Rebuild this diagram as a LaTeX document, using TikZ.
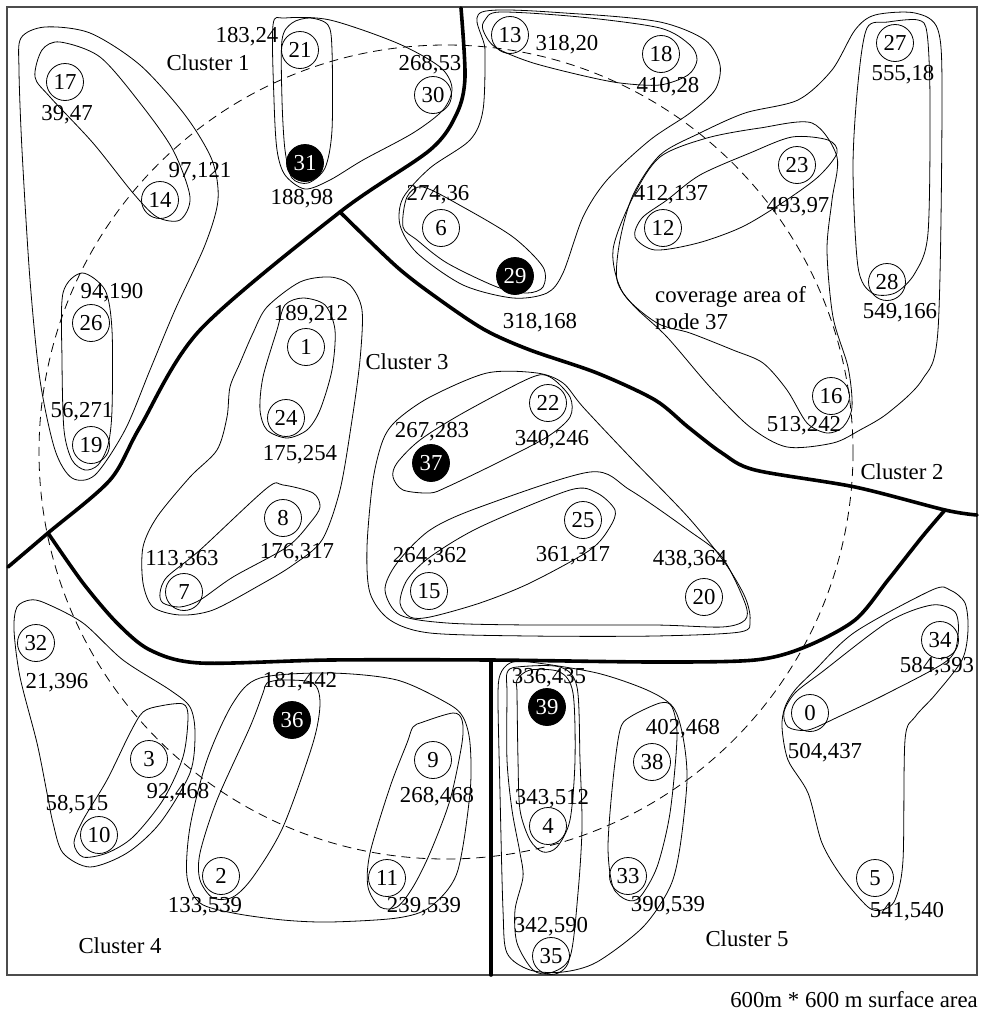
\documentclass[tikz,border=0pt]{standalone}
\usepackage{fontspec}
\setmainfont{Liberation Serif}

\begin{document}
\begin{tikzpicture}[x=1pt, y=-1pt,
    font=\fontsize{22.8}{27}\selectfont,
    station/.style={circle, draw, line width=0.8pt, minimum size=37pt, inner sep=0pt},
    clhead/.style={station, fill=black, text=white},
    xylabel/.style={inner sep=0pt},
    blob/.style={line width=0.8pt},
    cluborder/.style={line width=3.6pt, line join=round, line cap=round},
    coverage/.style={line width=0.8pt, dash pattern=on 9pt off 6pt}]

  \useasboundingbox (0,0) rectangle (985,1012);

  % surface frame
  \draw[line width=1.2pt, black!70] (7,7) rectangle (977,975);

  % coverage area of node 37
  \draw[coverage] (446,452) circle [radius=407];

  % cluster borders
  \draw[cluborder] plot[smooth] coordinates {(461,8) (465,77) (457,113) (430,150) (340,212) (200,330) (140,427) (110,480) (48,533) (8,567)};
  \draw[cluborder] plot[smooth] coordinates {(340,212) (397,267) (440,300) (485,330) (530,350) (597,373) (655,400) (688,427) (722,453) (755,470) (855,487) (945,510) (977,515)};
  \draw[cluborder] plot[smooth] coordinates {(48,533) (83,583) (117,623) (150,650) (200,663) (330,660) (490,660) (655,662) (755,660) (805,647) (855,620) (888,580) (922,537) (945,510)};
  \draw[cluborder] (491,660) -- (491,975);

  % cluster 1 groups
  \draw[blob] plot[smooth cycle] coordinates {(21,38) (45,27) (90,33) (140,65) (185,115) (212,160) (218,200) (205,245) (175,310) (150,370) (125,430) (95,475) (72,478) (55,450) (40,380) (30,280) (22,150) (19,70)};
  \draw[blob] plot[smooth cycle] coordinates {(35,77) (42,50) (60,42) (100,57) (140,103) (173,150) (190,197) (180,220) (157,217) (133,193) (93,143) (50,97)};
  \draw[blob] plot[smooth cycle] coordinates {(63,293) (82,273) (105,290) (112,330) (112,410) (108,445) (98,465) (85,470) (72,460) (64,430) (62,360)};
  \draw[blob] plot[smooth cycle] coordinates {(273,25) (285,18) (330,20) (397,43) (440,67) (452,88) (443,110) (413,133) (363,160) (330,180) (305,189) (285,175) (277,150) (274,100)};
  \draw[blob] plot[smooth cycle] coordinates {(282,40) (292,23) (310,18) (328,25) (332,50) (332,130) (325,168) (308,183) (292,178) (285,150) (282,100)};

  % groups around 13, 18, 6, 29
  \draw[blob] plot[smooth cycle] coordinates {(485,20) (500,12) (580,17) (660,28) (690,45) (697,60) (688,75) (660,85) (620,83) (580,75) (530,62) (495,47) (483,30)};
  \draw[blob] plot[smooth cycle] coordinates {(482,12) (580,14) (660,22) (705,40) (720,65) (715,90) (690,113) (650,140) (607,180) (583,217) (563,273) (547,293) (513,298) (463,285) (417,253) (400,225) (403,198) (430,168) (470,140) (483,110) (485,50)};
  \draw[blob] plot[smooth cycle] coordinates {(403,227) (407,197) (423,187) (463,207) (513,237) (543,267) (543,287) (527,293) (497,287) (447,263) (417,240)};

  % cluster 2 groups
  \draw[blob] plot[smooth cycle] coordinates {(855,30) (832,70) (798,100) (745,113) (700,133) (660,155) (633,195) (620,240) (617,280) (633,305) (667,337) (710,387) (750,427) (787,447) (833,443) (860,430) (888,413) (922,380) (938,330) (942,100) (938,30) (915,13) (875,15)};
  \draw[blob] plot[smooth cycle] coordinates {(613,250) (623,293) (657,323) (690,333) (733,350) (763,363) (787,390) (807,423) (827,433) (843,427) (852,407) (848,367) (833,317) (827,250) (832,200) (837,157) (812,123) (760,128) (707,138) (660,157) (633,197)};
  \draw[blob] plot[smooth cycle] coordinates {(635,237) (642,218) (667,200) (700,175) (750,153) (792,137) (828,140) (837,153) (818,177) (782,203) (742,227) (698,243) (655,250)};
  \draw[blob] plot[smooth cycle] coordinates {(867,28) (888,22) (918,20) (927,33) (930,100) (928,233) (915,273) (895,293) (872,293) (858,267) (853,167) (858,83)};

  % cluster 3 groups
  \draw[blob] plot[smooth cycle] coordinates {(277,330) (285,305) (303,298) (325,305) (335,330) (332,370) (320,410) (307,430) (287,438) (267,430) (260,410) (263,377)};
  \draw[blob] plot[smooth cycle] coordinates {(253,333) (267,307) (300,282) (330,277) (350,285) (362,310) (360,360) (352,420) (340,490) (322,540) (293,565) (260,585) (213,610) (180,615) (153,607) (143,583) (143,547) (157,517) (190,477) (217,450) (227,417) (230,387) (240,363)};
  \draw[blob] plot[smooth cycle] coordinates {(160,593) (167,577) (200,550) (267,488) (283,485) (313,493) (320,507) (310,523) (287,547) (233,577) (200,600) (180,607) (163,603)};
  \draw[blob] plot[smooth cycle] coordinates {(393,477) (397,463) (420,440) (463,413) (530,378) (550,377) (570,397) (570,417) (547,437) (497,463) (447,487) (430,493) (403,490)};
  \draw[blob] plot[smooth cycle] coordinates {(400,603) (407,580) (430,557) (480,527) (570,490) (597,493) (615,510) (610,527) (590,550) (530,583) (480,603) (430,617) (410,617)};
  \draw[blob] plot[smooth cycle] coordinates {(385,590) (397,563) (430,530) (480,507) (590,472) (630,490) (688,530) (722,557) (745,603) (745,620) (722,627) (655,625) (530,625) (447,623) (400,615)};
  \draw[blob] plot[smooth cycle] coordinates {(383,440) (397,420) (430,397) (487,373) (537,373) (563,383) (583,407) (630,457) (688,517) (725,563) (745,597) (750,620) (740,632) (655,636) (530,636) (430,633) (390,620) (370,593) (367,547) (373,480)};

  % cluster 4 groups
  \draw[blob] plot[smooth cycle] coordinates {(17,607) (30,600) (45,603) (83,623) (123,660) (170,690) (190,707) (195,733) (190,773) (160,823) (127,853) (90,867) (63,853) (53,823) (47,793) (37,743) (20,677) (14,630)};
  \draw[blob] plot[smooth cycle] coordinates {(143,712) (160,706) (183,704) (188,717) (183,757) (163,800) (133,837) (107,853) (83,857) (74,843) (83,820) (107,780) (130,733)};
  \draw[blob] plot[smooth cycle] coordinates {(267,683) (283,680) (313,683) (320,703) (313,743) (283,827) (253,877) (233,897) (213,898) (200,880) (200,853) (217,800) (250,727) (263,693)};
  \draw[blob] plot[smooth cycle] coordinates {(260,678) (233,703) (207,760) (190,827) (187,877) (200,903) (233,913) (283,920) (330,922) (397,918) (430,907) (457,873) (470,793) (470,743) (463,717) (447,703) (397,680) (330,673)};
  \draw[blob] plot[smooth cycle] coordinates {(413,727) (423,722) (453,713) (462,720) (462,743) (450,800) (430,853) (413,887) (397,907) (380,907) (368,887) (370,853) (390,787) (407,743)};

  % cluster 5 groups
  \draw[blob] plot[smooth cycle] coordinates {(517,680) (530,670) (560,672) (573,693) (575,760) (570,820) (557,847) (543,852) (530,840) (520,810) (518,760) (517,693)};
  \draw[blob] plot[smooth cycle] coordinates {(507,673) (517,667) (560,667) (577,687) (580,760) (582,827) (578,893) (570,957) (550,973) (533,970) (517,943) (515,910) (523,877) (520,853) (512,810) (507,760) (507,693)};
  \draw[blob] plot[smooth cycle] coordinates {(500,675) (510,663) (530,662) (597,673) (647,690) (673,707) (683,737) (687,780) (680,847) (670,887) (643,927) (597,962) (563,972) (530,970) (507,953) (503,910) (500,793) (498,700)};
  \draw[blob] plot[smooth cycle] coordinates {(620,730) (630,717) (660,703) (672,707) (677,737) (670,813) (657,867) (640,897) (627,900) (613,887) (608,847) (613,780)};
  \draw[blob] plot[smooth cycle] coordinates {(795,693) (822,672) (888,622) (932,605) (955,612) (958,635) (948,660) (888,693) (838,717) (808,730) (788,727) (784,712)};
  \draw[blob] plot[smooth cycle] coordinates {(795,690) (815,670) (855,632) (932,590) (950,590) (965,603) (968,630) (962,660) (935,695) (915,717) (905,740) (903,860) (895,900) (882,910) (868,907) (842,877) (822,843) (808,793) (788,760) (782,727) (785,707)};

  % sensor nodes
  \node[station] (n0) at (810,713) {0};
  \node[station] (n1) at (306,347) {1};
  \node[station] (n2) at (221,876) {2};
  \node[station] (n3) at (149,759) {3};
  \node[station] (n4) at (548,826) {4};
  \node[station] (n5) at (875,878) {5};
  \node[station] (n6) at (441,228) {6};
  \node[station] (n7) at (184,592) {7};
  \node[station] (n8) at (283,518) {8};
  \node[station] (n9) at (433,760) {9};
  \node[station] (n10) at (99,835) {10};
  \node[station] (n11) at (387,878) {11};
  \node[station] (n12) at (663,228) {12};
  \node[station] (n13) at (510,35) {13};
  \node[station] (n14) at (160,200) {14};
  \node[station] (n15) at (429,591) {15};
  \node[station] (n16) at (831,396) {16};
  \node[station] (n17) at (65,82) {17};
  \node[station] (n18) at (661,54) {18};
  \node[station] (n19) at (91,445) {19};
  \node[station] (n20) at (704,597) {20};
  \node[station] (n21) at (300,50) {21};
  \node[station] (n22) at (548,403) {22};
  \node[station] (n23) at (797,165) {23};
  \node[station] (n24) at (286,418) {24};
  \node[station] (n25) at (583,520) {25};
  \node[station] (n26) at (91,323) {26};
  \node[station] (n27) at (895,43) {27};
  \node[station] (n28) at (887,282) {28};
  \node[station] (n30) at (433,95) {30};
  \node[station] (n32) at (36,643) {32};
  \node[station] (n33) at (628,876) {33};
  \node[station] (n34) at (940,640) {34};
  \node[station] (n35) at (551,956) {35};
  \node[station] (n38) at (652,762) {38};

  % cluster heads
  \node[clhead] (n29) at (515,276) {29};
  \node[clhead] (n31) at (305,163) {31};
  \node[clhead] (n36) at (292,720) {36};
  \node[clhead] (n37) at (431,463) {37};
  \node[clhead] (n39) at (547,707) {39};

  % positions
  \node[xylabel] (p17) at (67,115) {39,47};
  \node[xylabel] (p14) at (200,172) {97,121};
  \node[xylabel] (p21) at (247,37) {183,24};
  \node[xylabel] (p31) at (302,199) {188,98};
  \node[xylabel] (p26) at (112,293) {94,190};
  \node[xylabel] (p19) at (82,412) {56,271};
  \node[xylabel] (p30) at (430,65) {268,53};
  \node[xylabel] (p13) at (567,45) {318,20};
  \node[xylabel] (p18) at (668,87) {410,28};
  \node[xylabel] (p6) at (438,195) {274,36};
  \node[xylabel] (p29) at (540,323) {318,168};
  \node[xylabel] (p27) at (903,75) {555,18};
  \node[xylabel] (p12) at (671,195) {412,137};
  \node[xylabel] (p23) at (798,207) {493,97};
  \node[xylabel] (p28) at (900,313) {549,166};
  \node[xylabel] (p16) at (804,426) {513,242};
  \node[xylabel] (p1) at (311,315) {189,212};
  \node[xylabel] (p24) at (300,455) {175,254};
  \node[xylabel] (p8) at (297,553) {176,317};
  \node[xylabel] (p7) at (182,560) {113,363};
  \node[xylabel] (p37) at (432,432) {267,283};
  \node[xylabel] (p22) at (552,440) {340,246};
  \node[xylabel] (p15) at (430,557) {264,362};
  \node[xylabel] (p25) at (573,556) {361,317};
  \node[xylabel] (p20) at (690,560) {438,364};
  \node[xylabel] (p32) at (57,683) {21,396};
  \node[xylabel] (p3) at (178,793) {92,468};
  \node[xylabel] (p10) at (77,805) {58,515};
  \node[xylabel] (p36) at (300,682) {181,442};
  \node[xylabel] (p2) at (205,907) {133,539};
  \node[xylabel] (p9) at (437,797) {268,468};
  \node[xylabel] (p11) at (424,907) {239,539};
  \node[xylabel] (p39) at (549,678) {336,435};
  \node[xylabel] (p4) at (552,799) {343,512};
  \node[xylabel] (p35) at (551,927) {342,590};
  \node[xylabel] (p38) at (683,729) {402,468};
  \node[xylabel] (p33) at (668,906) {390,539};
  \node[xylabel] (p34) at (937,667) {584,393};
  \node[xylabel] (p0) at (825,753) {504,437};
  \node[xylabel] (p5) at (907,912) {541,540};

  % cluster names
  \node (c1) at (208,63) {Cluster 1};
  \node (c2) at (902,472) {Cluster 2};
  \node (c3) at (407,362) {Cluster 3};
  \node (c4) at (120,946) {Cluster 4};
  \node (c5) at (747,939) {Cluster 5};
  \node[xylabel, align=left, anchor=west] (cov) at (655,308) {coverage area of\\node 37};
  \node[xylabel, anchor=east] (area) at (978,1000) {600m * 600 m surface area};

\end{tikzpicture}
\end{document}
